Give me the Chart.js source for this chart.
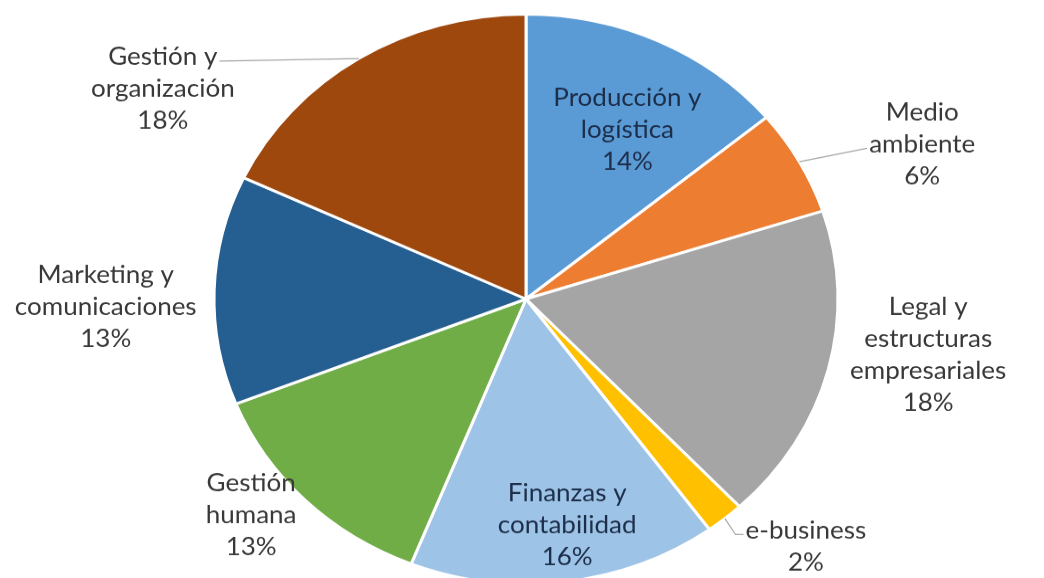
<!DOCTYPE html>
<html>
<head>
<meta charset="utf-8">
<script src="https://cdn.jsdelivr.net/npm/chart.js@4"></script>
<style>
  html, body { margin: 0; padding: 0; background: #fff; overflow: hidden; }
  #wrap { width: 1044px; height: 578px; overflow: hidden; }
  /* the chart is drawn slightly flattened, like the printed figure */
  #chart { transform: scaleY(0.913); transform-origin: 0 0; }
</style>
</head>
<body>
<div id="wrap"><canvas id="chart" width="1044" height="640"></canvas></div>
<script>
// áreas temáticas (share of courses, %)
const categories = [
  ['Producción y', 'logística'],
  ['Medio', 'ambiente'],
  ['Legal y', 'estructuras', 'empresariales'],
  ['e-business'],
  ['Finanzas y', 'contabilidad'],
  ['Gestión', 'humana'],
  ['Marketing y', 'comunicaciones'],
  ['Gestión y', 'organización']
];
const shares = [14, 6, 18, 2, 16, 13, 13, 18];
const colors = ['#5B9BD5', '#ED7D31', '#A5A5A5', '#FFC000', '#9DC3E6', '#70AD47', '#255E91', '#9E480E'];
const textColors = ['#1C2E4A', '#383838', '#383838', '#383838', '#1C2E4A', '#383838', '#383838', '#383838'];

// where each label block sits, relative to the pie centre (in radii)
const labelSpots = [
  [0.325, -0.592], [1.270, -0.542], [1.289, 0.197], [0.897, 0.870],
  [0.132, 0.796], [-0.881, 0.760], [-1.347, 0.028], [-1.164, -0.736]
];
// leader lines: which text line they point to and from which side
const leaders = {
  1: { line: 1, side: 'left' },
  3: { line: 0, side: 'left', elbow: 8 },
  7: { line: 0, side: 'right' }
};

const FONT = '26px Lato';
const LINE = 35;

const sliceLabels = {
  id: 'sliceLabels',
  afterDatasetsDraw(chart) {
    const ctx = chart.ctx;
    const meta = chart.getDatasetMeta(0);
    const total = shares.reduce((a, b) => a + b, 0);
    ctx.save();
    ctx.font = FONT;
    ctx.textAlign = 'center';
    ctx.textBaseline = 'middle';
    meta.data.forEach((arc, i) => {
      const p = arc.getProps(['x', 'y', 'outerRadius', 'startAngle', 'endAngle'], true);
      const R = p.outerRadius;
      const cx = p.x + labelSpots[i][0] * R;
      const cy = p.y + labelSpots[i][1] * R;
      const lines = [...categories[i], Math.round(shares[i] / total * 100) + '%'];
      const top = cy - (lines.length - 1) * LINE / 2;

      const ld = leaders[i];
      if (ld) {
        const mid = (p.startAngle + p.endAngle) / 2;
        const sx = p.x + Math.cos(mid) * R;
        const sy = p.y + Math.sin(mid) * R;
        const w = ctx.measureText(lines[ld.line]).width;
        const ey = top + ld.line * LINE + 4;
        const ex = ld.side === 'left' ? cx - w / 2 - 2 : cx + w / 2 + 2;
        ctx.strokeStyle = '#A6A6A6';
        ctx.lineWidth = 1.2;
        ctx.beginPath();
        ctx.moveTo(sx, sy);
        if (ld.elbow) ctx.lineTo(ex - ld.elbow, ey);
        ctx.lineTo(ex, ey);
        ctx.stroke();
      }

      ctx.fillStyle = textColors[i];
      lines.forEach((t, k) => ctx.fillText(t, cx, top + k * LINE));
    });
    ctx.restore();
  }
};

new Chart(document.getElementById('chart'), {
  type: 'pie',
  data: {
    labels: categories,
    datasets: [{
      data: shares,
      backgroundColor: colors,
      borderColor: '#ffffff',
      borderWidth: 3,
      radius: 312
    }]
  },
  options: {
    responsive: false,
    animation: false,
    layout: { padding: { top: 15, bottom: 0, left: 200, right: 192 } },
    plugins: {
      legend: { display: false },
      tooltip: { enabled: false }
    }
  },
  plugins: [sliceLabels]
});
</script>
</body>
</html>
